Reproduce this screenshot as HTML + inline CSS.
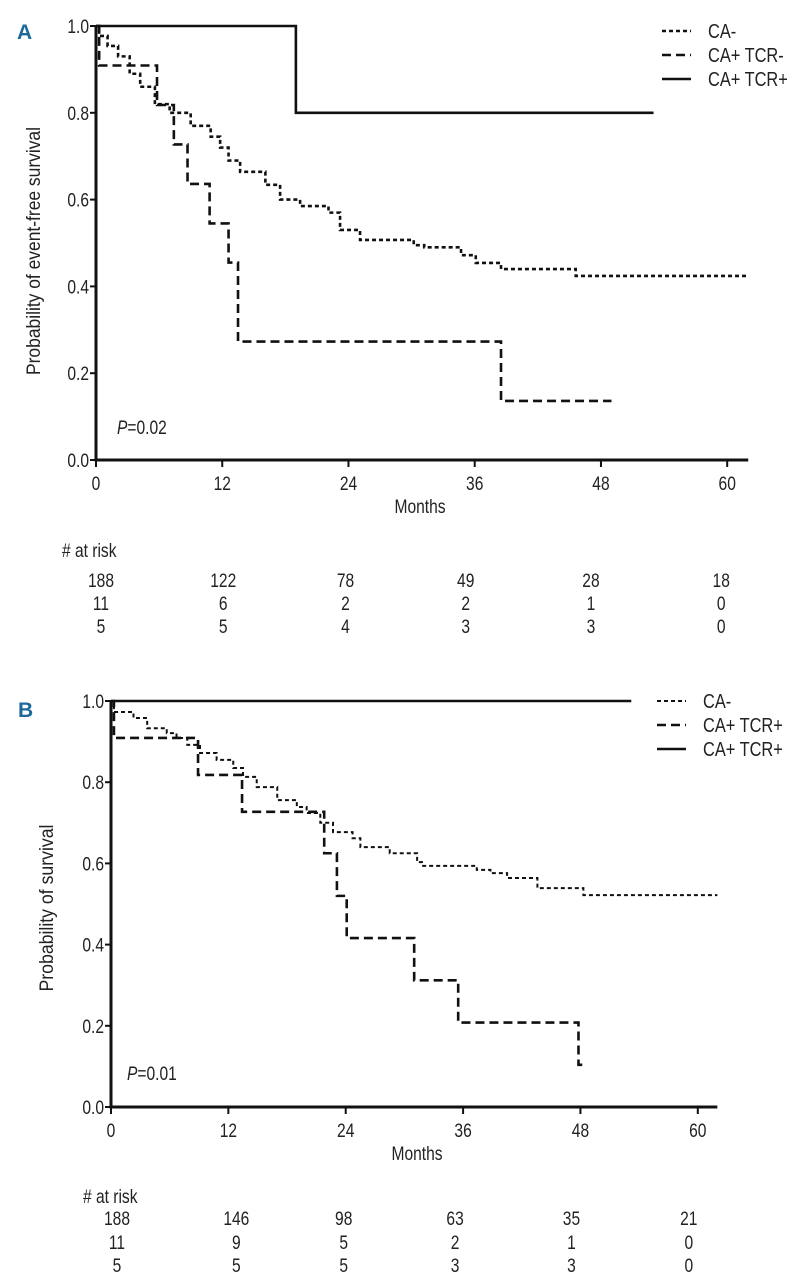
<!DOCTYPE html>
<html><head><meta charset="utf-8"><style>
html,body{margin:0;padding:0;background:#fff;}
svg{display:block;}
text{font-family:"Liberation Sans Narrow","Liberation Sans",sans-serif;fill:#222;}
</style></head>
<body>
<svg id="fig" width="795" height="1280" viewBox="0 0 795 1280" xmlns="http://www.w3.org/2000/svg">
<text x="17" y="39" style="font-weight:bold;font-size:21px;fill:#1d6a9a">A</text>
<text x="18" y="717" style="font-weight:bold;font-size:21px;fill:#1d6a9a">B</text>
</svg>
<script>
// ---- Panel A data ----
const xTicks = [0, 12, 24, 36, 48, 60];
const yTicks = [0.0, 0.2, 0.4, 0.6, 0.8, 1.0];
const aCaNegT = [0.3,1.1,2.1,3.2,4.2,5.6,7.0,9.0,10.9,11.8,12.6,13.7,16.1,17.5,19.4,22.1,23.2,25.1,30.2,31.2,34.7,36.1,38.5,45.6];
const aCaNegS = [0.977,0.954,0.93,0.89,0.86,0.82,0.80,0.77,0.745,0.72,0.69,0.664,0.634,0.60,0.585,0.57,0.53,0.507,0.495,0.49,0.472,0.454,0.44,0.424];
const aTcrNegT = [0.3,5.8,7.4,8.7,10.8,12.6,13.5,38.5];
const aTcrNegS = [0.909,0.818,0.727,0.636,0.545,0.455,0.273,0.136];
const aTcrPosT = [19];
const aTcrPosS = [0.8];
const aEnds = [62, 49, 53];
const aRisk = [[188,122,78,49,28,18],[11,6,2,2,1,0],[5,5,4,3,3,0]];
const aLegend = ["CA-", "CA+ TCR-", "CA+ TCR+"];
// ---- Panel B data ----
const bCaNegT = [0.3,2.3,3.7,5.7,6.7,7.8,9.1,10.8,12.5,13.5,14.9,17.0,19.0,20.0,21.4,22.7,24.7,25.5,28.5,31.3,31.8,37.4,38.8,40.5,43.6,48.3];
const bCaNegS = [0.973,0.958,0.933,0.921,0.909,0.892,0.872,0.855,0.835,0.813,0.788,0.756,0.739,0.724,0.70,0.677,0.662,0.64,0.625,0.603,0.594,0.584,0.576,0.564,0.539,0.522];
const bTcrT = [0.3,8.9,13.4,21.8,23.1,24.1,31.0,35.5,47.8];
const bTcrS = [0.909,0.818,0.727,0.625,0.52,0.416,0.312,0.208,0.104];
const bTcrPosT = [];
const bTcrPosS = [];
const bEnds = [62, 48.6, 53.2];
const bRisk = [[188,146,98,63,35,21],[11,9,5,2,1,0],[5,5,5,3,3,0]];
const bLegend = ["CA-", "CA+ TCR+", "CA+ TCR+"];

const NS = "http://www.w3.org/2000/svg";
const svg = document.getElementById("fig");
function mk(tag, attrs, parent){const e=document.createElementNS(NS,tag);for(const k in attrs)e.setAttribute(k,attrs[k]);(parent||svg).appendChild(e);return e;}
function txt(x,y,s,size,anchor,sx){const t=mk("text",{x:0,y:0,"font-size":size,"text-anchor":anchor||"start",transform:`translate(${x},${y}) scale(${sx||0.85},1)`});t.textContent=s;return t;}

function panel(cfg){
  const X = m => cfg.x0 + m*cfg.ppm;
  const Y = v => cfg.yb - v*(cfg.yb-cfg.yt);
  const g = mk("g",{});
  
  
  // axes
  const ax = mk("path",{d:`M${X(0)},${Y(1)} V${Y(0)} H${X(62)}`,fill:"none",stroke:"#111","stroke-width":3},g);
  
  
  yTicks.forEach(v=>{
    mk("line",{x1:X(0)-6,x2:X(0),y1:Y(v),y2:Y(v),stroke:"#111","stroke-width":2},g);
    const t=txt(X(0)-7,Y(v)+7,v.toFixed(1),19,"end",0.82); g.appendChild(t);
    
    
  });
  xTicks.forEach(m=>{
    mk("line",{x1:X(m),x2:X(m),y1:Y(0),y2:Y(0)+7,stroke:"#111","stroke-width":2},g);
    const t=txt(X(m),cfg.yb+30,String(m),19,"middle",0.82); g.appendChild(t);
    
    
  });
  const xl=txt(cfg.monthsX,cfg.yb+53,"Months",19,"middle",0.82); g.appendChild(xl);
  
  
  const yl=mk("text",{x:0,y:0,"font-size":19,"text-anchor":"middle",textLength:cfg.titleLen,lengthAdjust:"spacingAndGlyphs",transform:`translate(${cfg.titleX},${cfg.titleY}) rotate(-90)`},g);
  yl.textContent=cfg.title;
  
  
  const p=mk("text",{x:0,y:0,"font-size":19,transform:`translate(${cfg.pX},${cfg.pY}) scale(0.82,1)`},g);
  p.innerHTML='<tspan font-style="italic">P</tspan>='+cfg.pval;
  
  
  // curves
  const styles=[{dash:"4,3",w:cfg.dotW},{dash:"9,5",w:2.6},{dash:"none",w:2.6}];
  const names=["curve-ca-neg","curve-ca-pos-tcr-a","curve-ca-pos-tcr-b"];
  cfg.series.forEach((se,i)=>{
    let d=`M${X(0)},${Y(1)}`;
    se.t.forEach((tm,j)=>{ d+=` H${X(tm)} V${Y(se.s[j])}`; });
    d+=` H${X(cfg.ends[i])}`;
    const c=mk("path",{d,fill:"none",stroke:"#111","stroke-width":styles[i].w,"stroke-dasharray":styles[i].dash},g);
    
    
    // legend
    const ly=cfg.legY+i*24;
    mk("line",{x1:cfg.legX,x2:cfg.legX+29,y1:ly,y2:ly,stroke:"#111","stroke-width":styles[i].w,"stroke-dasharray":styles[i].dash},g);
    const lt=txt(cfg.legX+46,ly+7,cfg.legend[i],20,"start",0.82); g.appendChild(lt);
    
    
  });
  // risk table
  const rh=txt(cfg.riskX,cfg.riskHY,"# at risk",19,"start",0.82); g.appendChild(rh);
  
  
  cfg.risk.forEach((row,r)=>{
    row.forEach((n,k)=>{
      const t=txt(X(xTicks[k])+cfg.riskOff[k],cfg.riskY[r]+7,String(n),19,"middle",0.82); g.appendChild(t);
      
      
    });
  });
}

panel({name:"panel-a",x0:96,ppm:10.52,yb:460,yt:26,dotW:2.6,
  series:[{t:aCaNegT,s:aCaNegS},{t:aTcrNegT,s:aTcrNegS},{t:aTcrPosT,s:aTcrPosS}],
  ends:aEnds,legend:aLegend,legX:662,legY:31,
  title:"Probability of event-free survival",titleX:40,titleY:251,titleLen:248,
  pX:117,pY:434,pval:"0.02",monthsX:420,
  risk:aRisk,riskX:62,riskHY:557,riskY:[580,603,626],riskOff:[5,1,-3,-9,-10,-6]});

panel({name:"panel-b",x0:111,ppm:9.78,yb:1107,yt:701,dotW:2,
  series:[{t:bCaNegT,s:bCaNegS},{t:bTcrT,s:bTcrS},{t:bTcrPosT,s:bTcrPosS}],
  ends:bEnds,legend:bLegend,legX:657,legY:701,
  title:"Probability of survival",titleX:53,titleY:908,titleLen:167,
  pX:127,pY:1080,pval:"0.01",monthsX:417,
  risk:bRisk,riskX:83,riskHY:1203,riskY:[1218,1242,1265],riskOff:[6,8,-2,-8,-9,-9]});
</script>
</body></html>
